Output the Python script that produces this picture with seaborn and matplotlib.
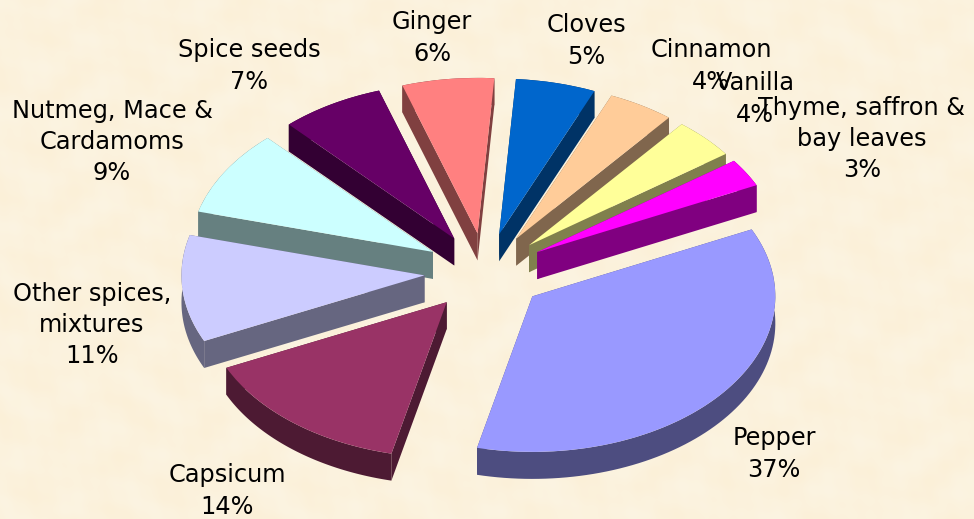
import numpy as np
import matplotlib
matplotlib.use("Agg")
import matplotlib.pyplot as plt
from matplotlib.transforms import Affine2D
import seaborn as sns

# --- data -------------------------------------------------------------
categories = ["Pepper", "Capsicum", "Other spices,\nmixtures", "Nutmeg, Mace &\nCardamoms",
              "Spice seeds", "Ginger", "Cloves", "Cinnamon", "Vanilla",
              "Thyme, saffron &\nbay leaves"]
percent_labels = [37, 14, 11, 9, 7, 6, 5, 4, 4, 3]
# slice sizes as drawn in the picture
drawn_shares = [35.7, 14.4, 11.1, 8.9, 6.9, 6.1, 5.3, 4.4, 4.2, 2.9]
top_colors = ["#9999FF", "#993366", "#CCCCFF", "#CCFFFF", "#660066",
              "#FF8080", "#0066CC", "#FFCC99", "#FFFF99", "#FF00FF"]

# --- layout -----------------------------------------------------------
W, H = 974, 519
BG = "#FBF0DA"
RADIUS_PX = 243
SQUASH = 0.64
CENTER_PX = (485, 272)
DEPTH_PX = 27
label_centers = [(774, 454), (227, 491), (92, 325), (112, 142), (249, 66),
                 (432, 38), (586, 41), (711, 66), (755, 99), (862, 139)]

sns.set_theme(style="white")
plt.rcParams["font.family"] = ["DejaVu Sans"]

fig = plt.figure(figsize=(W / 100, H / 100), dpi=100, facecolor=BG)
ax = fig.add_axes([0, 0, 1, 1])
palette = sns.color_palette(top_colors)

wedges, _ = ax.pie(drawn_shares, explode=[0.25] * len(drawn_shares), colors=palette,
                   startangle=25.5, counterclock=False, radius=1,
                   wedgeprops={"linewidth": 0})

# faint parchment mottling behind the chart
yy, xx = np.mgrid[0:H, 0:W]
mottle = (np.sin(xx / 11.0 + np.sin(yy / 19.0) * 2) + np.sin(yy / 9.0 + np.sin(xx / 23.0) * 2)
          + 0.6 * np.sin((xx + yy) / 5.0) * np.sin((xx - yy) / 7.0))
mottle = (mottle - mottle.min()) / (mottle.max() - mottle.min())
low, high = np.array([251, 240, 216]) / 255, np.array([252, 244, 226]) / 255
texture = low + mottle[..., None] * (high - low)
ax.imshow(texture, extent=(0, W, 0, H), origin="lower", zorder=0, interpolation="bilinear")

ax.set_aspect("auto")
ax.set_xlim(0, W)
ax.set_ylim(0, H)
ax.axis("off")

to_px = Affine2D().scale(RADIUS_PX, RADIUS_PX * SQUASH).translate(CENTER_PX[0], H - CENTER_PX[1])
to_screen = to_px + ax.transData


def side_polys(w):
    """Extruded walls of one wedge, in unit-pie coordinates mapped to pixels."""
    cx, cy = w.center
    t = np.radians(np.linspace(w.theta1, w.theta2, 80))
    rim = np.column_stack([cx + w.r * np.cos(t), cy + w.r * np.sin(t)])
    rim = to_px.transform(rim)
    apex = to_px.transform([[cx, cy]])
    down = np.array([0, -DEPTH_PX])
    polys = [np.vstack([rim, (rim + down)[::-1]]),
             np.vstack([apex, rim[0], rim[0] + down, apex + down]),
             np.vstack([apex, rim[-1], rim[-1] + down, apex + down])]
    return polys


order = sorted(range(len(wedges)), key=lambda i: -wedges[i].center[1])
for z, i in enumerate(order):
    w = wedges[i]
    side = tuple(0.5 * c for c in palette[i])
    for poly in side_polys(w):
        ax.fill(poly[:, 0], poly[:, 1], color=side, lw=0, zorder=2 * z + 1)
    w.set_transform(to_screen)
    w.set_zorder(2 * z + 2)
    w.set_clip_on(False)

for name, share, (x, y) in zip(categories, percent_labels, label_centers):
    ax.text(x, H - y, f"{name}\n{share}%", ha="center", va="center", fontsize=17.3,
            color="black", linespacing=1.38, zorder=50)

fig.savefig("out.png", dpi=100, facecolor=BG)
